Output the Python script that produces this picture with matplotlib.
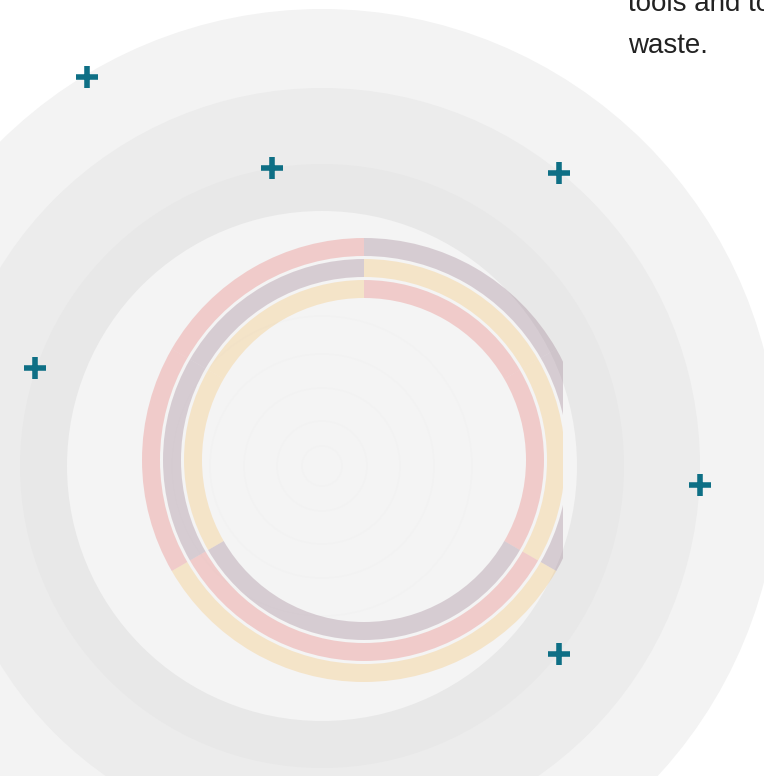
import matplotlib
matplotlib.use('Agg')
import matplotlib.pyplot as plt
from matplotlib.patches import Circle, Rectangle

# background rings (radius in px) and their greys
bg_radii = [457, 378, 302, 255]
bg_colors = ['#f3f3f3', '#ececec', '#e8e8e8', '#f4f4f4']
bg_center = (322, 310)

# three donut rings, each cut in six equal slices
segments = [1, 1, 1, 1, 1, 1]
pink = '#e76f6b4d'
purple = '#9372864d'
beige = '#f4bf654d'
outer_colors = [purple, purple, beige, beige, pink, pink]
middle_colors = [beige, beige, pink, pink, purple, purple]
inner_colors = [pink, pink, purple, purple, beige, beige]
ring_radii = [222, 201, 180]
donut_center = (364, 316)

# plus markers
plus_x = [87, 272, 559, 35, 700, 559]
plus_y = [699, 608, 603, 408, 291, 122]

fig = plt.figure(figsize=(7.64, 7.76), dpi=100)
ax = fig.add_axes([0, 0, 1, 1])

for r, c in zip(bg_radii, bg_colors):
    ax.add_patch(Circle(bg_center, r, facecolor=c, edgecolor='none', zorder=1))

# very faint rings in the middle of the background
for r in [150, 112, 78, 45, 20]:
    ax.add_patch(Circle(bg_center, r, facecolor='none', edgecolor='#f2f2f2',
                        linewidth=1.0, zorder=1))

clip = Rectangle((0, 0), 563, 776, transform=ax.transData)
for colors, r in zip([outer_colors, middle_colors, inner_colors], ring_radii):
    wedges, _ = ax.pie(segments, colors=colors, startangle=90, counterclock=False,
                       radius=r, center=donut_center, frame=True,
                       wedgeprops=dict(width=18, linewidth=0))
    for w in wedges:
        w.set_zorder(2)
        w.set_clip_on(True)
        w.set_clip_path(clip)

ax.scatter(plus_x, plus_y, marker='+', s=240, linewidths=4, color='#0e6f85', zorder=3)

ax.text(628, 765, 'tools and to', fontsize=20, family='Liberation Sans', color='#222222')
ax.text(628, 723, 'waste.', fontsize=20, family='Liberation Sans', color='#222222')

ax.set_xlim(0, 764)
ax.set_ylim(0, 776)
ax.set_aspect('auto')
ax.axis('off')

fig.savefig('out.png', dpi=100, facecolor='white')
